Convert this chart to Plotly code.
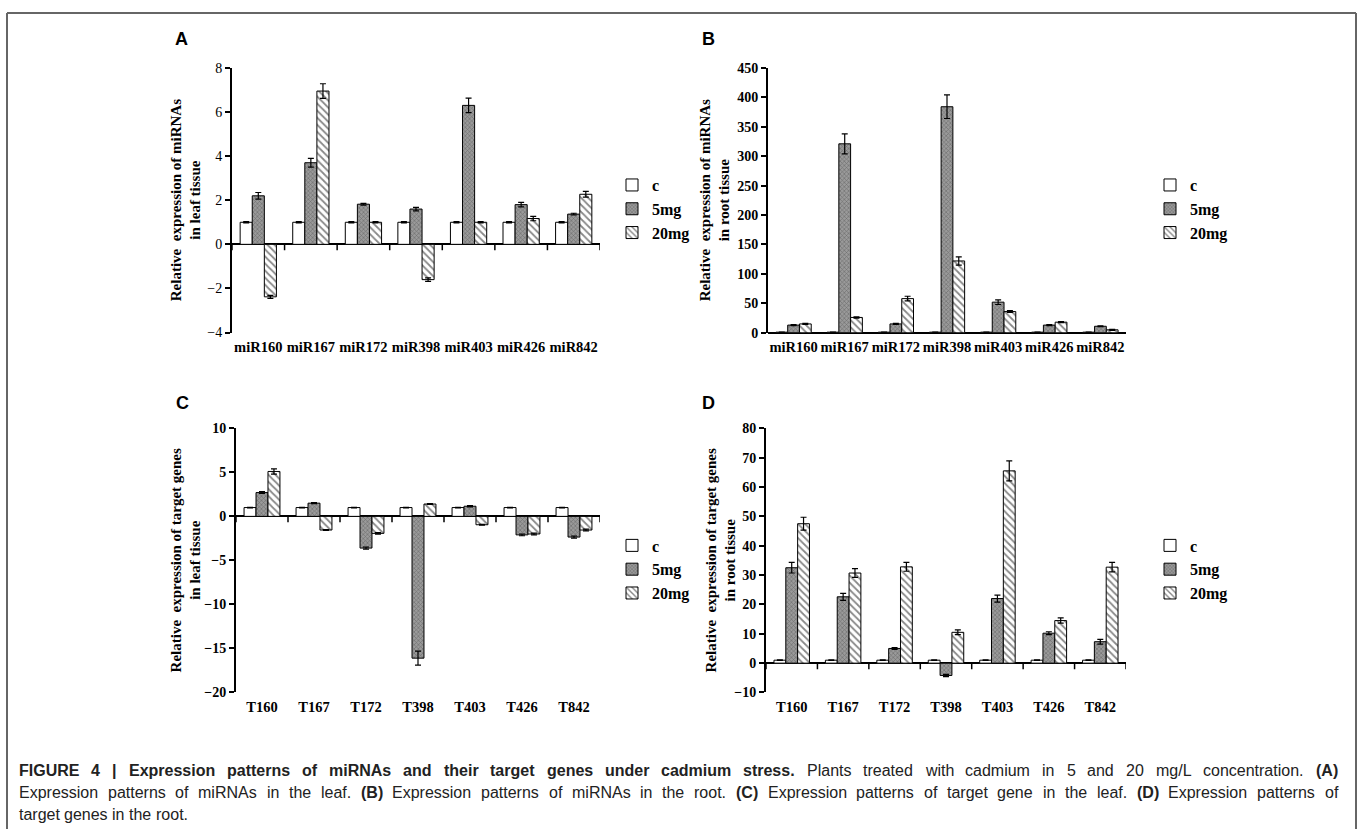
import plotly.graph_objects as go

W, H = 1362, 837

# ---------------- data ----------------
mirna_cats = ["miR160", "miR167", "miR172", "miR398", "miR403", "miR426", "miR842"]
target_cats = ["T160", "T167", "T172", "T398", "T403", "T426", "T842"]
series_names = ["c", "5mg", "20mg"]

# (A) miRNAs in leaf
leaf_mirna_c = [1, 1, 1, 1, 1, 1, 1]
leaf_mirna_c_err = [0.03, 0.03, 0.03, 0.03, 0.03, 0.03, 0.03]
leaf_mirna_5mg = [2.2, 3.7, 1.82, 1.6, 6.3, 1.8, 1.37]
leaf_mirna_5mg_err = [0.15, 0.2, 0.04, 0.08, 0.33, 0.1, 0.04]
leaf_mirna_20mg = [-2.38, 6.95, 1.0, -1.6, 1.0, 1.17, 2.27]
leaf_mirna_20mg_err = [0.07, 0.33, 0.03, 0.08, 0.03, 0.1, 0.13]

# (B) miRNAs in root
root_mirna_c = [1, 1, 1, 1, 1, 1, 1]
root_mirna_c_err = [0.2, 0.2, 0.2, 0.2, 0.2, 0.2, 0.2]
root_mirna_5mg = [13, 321, 15, 384, 52, 13, 11]
root_mirna_5mg_err = [1, 17, 1, 20, 4, 1, 0.8]
root_mirna_20mg = [15, 26, 58, 122, 36, 18, 5]
root_mirna_20mg_err = [1, 1, 4, 7, 1.5, 1, 0.8]

# (C) target genes in leaf
leaf_target_c = [1, 1, 1, 1, 1, 1, 1]
leaf_target_c_err = [0.03, 0.03, 0.03, 0.03, 0.03, 0.03, 0.03]
leaf_target_5mg = [2.7, 1.5, -3.6, -16.1, 1.15, -2.1, -2.35]
leaf_target_5mg_err = [0.1, 0.05, 0.12, 0.8, 0.08, 0.1, 0.12]
leaf_target_20mg = [5.1, -1.55, -1.93, 1.4, -0.95, -2.0, -1.55]
leaf_target_20mg_err = [0.3, 0.05, 0.08, 0.05, 0.05, 0.1, 0.1]

# (D) target genes in root
root_target_c = [1, 1, 1, 1, 1, 1, 1]
root_target_c_err = [0.1, 0.1, 0.1, 0.1, 0.1, 0.1, 0.1]
root_target_5mg = [32.5, 22.6, 5.0, -4.2, 22.0, 10.2, 7.3]
root_target_5mg_err = [1.8, 1.2, 0.3, 0.4, 1.2, 0.5, 0.8]
root_target_20mg = [47.5, 30.7, 32.8, 10.5, 65.5, 14.5, 32.7]
root_target_20mg_err = [2.2, 1.5, 1.5, 0.8, 3.4, 0.9, 1.6]

panel_letters = ["A", "B", "C", "D"]
y_titles = [
    "Relative  expression of miRNAs<br>in leaf tissue",
    "Relative  expression of miRNAs<br>in root tissue",
    "Relative  expression of target genes<br>in leaf tissue",
    "Relative  expression of target genes<br>in root tissue",
]
y_ranges = [(-4, 8, 2), (0, 450, 50), (-20, 10, 5), (-10, 80, 10)]

# caption: list of (text, bold) runs per line
caption_lines = [
    [("FIGURE 4 | Expression patterns of miRNAs and their target genes under cadmium stress.", True),
     ("Plants treated with cadmium in 5 and 20 mg/L concentration.", False),
     ("(A)", True)],
    [("Expression patterns of miRNAs in the leaf.", False), ("(B)", True),
     ("Expression patterns of miRNAs in the root.", False), ("(C)", True),
     ("Expression patterns of target gene in the leaf.", False), ("(D)", True),
     ("Expression patterns of", False)],
    [("target genes in the root.", False)],
]

panels = [
    (mirna_cats, [(leaf_mirna_c, leaf_mirna_c_err), (leaf_mirna_5mg, leaf_mirna_5mg_err), (leaf_mirna_20mg, leaf_mirna_20mg_err)]),
    (mirna_cats, [(root_mirna_c, root_mirna_c_err), (root_mirna_5mg, root_mirna_5mg_err), (root_mirna_20mg, root_mirna_20mg_err)]),
    (target_cats, [(leaf_target_c, leaf_target_c_err), (leaf_target_5mg, leaf_target_5mg_err), (leaf_target_20mg, leaf_target_20mg_err)]),
    (target_cats, [(root_target_c, root_target_c_err), (root_target_5mg, root_target_5mg_err), (root_target_20mg, root_target_20mg_err)]),
]

# ---------------- layout geometry (pixels) ----------------
plot_boxes = [  # x0, x1, ytop, ybottom
    (232, 600, 62, 331.5),
    (768, 1126, 62, 331.7),
    (236, 600, 429, 698),
    (766, 1126, 429, 698),
]
title_x = [186, 715, 186, 721]
letter_pos = [(181, 33), (708, 33), (182, 403), (708, 403)]
legend_pos = [(612, 164), (1150, 164), (612, 531), (1150, 531)]

SERIF = "Liberation Serif"
SANS = "Liberation Sans"

def xd(a, b):
    return [a / W, b / W]

def yd(top, bottom):
    return [1 - bottom / H, 1 - top / H]

# Helvetica / Arial (Liberation Sans) advance widths, 1/1000 em
_reg = dict(zip("ABCDEFGHIJKLMNOPQRSTUVWXYZ",
                [667, 667, 722, 722, 667, 611, 778, 722, 278, 500, 667, 556, 833, 722, 778, 667, 778, 722, 667, 611, 722, 667, 944, 667, 667, 611]))
_reg.update(zip("abcdefghijklmnopqrstuvwxyz",
                [556, 556, 500, 556, 556, 278, 556, 556, 222, 222, 500, 222, 833, 556, 556, 556, 556, 333, 500, 278, 556, 500, 722, 500, 500, 500]))
_reg.update({" ": 278, "(": 333, ")": 333, ".": 278, "/": 278, "|": 260, ",": 278})
_reg.update({d: 556 for d in "0123456789"})
_bold = dict(zip("ABCDEFGHIJKLMNOPQRSTUVWXYZ",
                 [722, 722, 722, 722, 667, 611, 778, 722, 278, 556, 722, 611, 833, 722, 778, 667, 778, 722, 667, 611, 722, 667, 944, 667, 667, 611]))
_bold.update(zip("abcdefghijklmnopqrstuvwxyz",
                 [556, 611, 556, 611, 556, 333, 611, 611, 278, 278, 556, 278, 889, 611, 611, 611, 611, 389, 556, 333, 611, 556, 778, 556, 556, 500]))
_bold.update({" ": 278, "(": 333, ")": 333, ".": 278, "/": 278, "|": 280, ",": 278})
_bold.update({d: 556 for d in "0123456789"})

def text_w(s, bold, size):
    t = _bold if bold else _reg
    return sum(t.get(ch, 556) for ch in s) * size / 1000.0

patterns = [
    dict(shape=""),
    dict(shape="x", fgcolor="#3a3a3a", bgcolor="#9a9a9a", size=3, solidity=0.35),
    dict(shape="\\", fgcolor="#111111", bgcolor="white", size=5, solidity=0.35),
]
fills = ["white", "#8c8c8c", "white"]

fig = go.Figure()
layout_axes = {}
shapes = []
annotations = []
legend_names = ["legend", "legend2", "legend3", "legend4"]

for i, (cats, series) in enumerate(panels):
    n = i + 1
    xa = "x" if n == 1 else f"x{n}"
    ya = "y" if n == 1 else f"y{n}"
    for s, (vals, errs) in enumerate(series):
        fig.add_trace(go.Bar(
            x=cats, y=vals, name=series_names[s],
            xaxis=xa, yaxis=ya, legend=legend_names[i],
            marker=dict(color=fills[s], line=dict(color="black", width=1), pattern=patterns[s]),
            error_y=dict(type="data", array=errs, visible=True, color="black", thickness=1.2, width=3),
        ))
    x0, x1, yt, yb = plot_boxes[i]
    lo, hi, step = y_ranges[i]
    ticks = list(range(lo, hi + 1, step))
    layout_axes["xaxis" if n == 1 else f"xaxis{n}"] = dict(
        domain=xd(x0, x1), anchor=ya, type="category", range=[-0.5, len(cats) - 0.5],
        showline=False, ticks="", showgrid=False, zeroline=False, tickangle=0,
        tickfont=dict(family=SERIF, size=14.5, color="black", weight="bold"),
        ticklabelstandoff=4,
    )
    layout_axes["yaxis" if n == 1 else f"yaxis{n}"] = dict(
        domain=yd(yt, yb), anchor=xa, range=[lo, hi], tickmode="array", tickvals=ticks,
        showline=True, linecolor="black", linewidth=2, ticks="outside", ticklen=5,
        tickwidth=1.5, tickcolor="black", showgrid=False,
        zeroline=True, zerolinecolor="black", zerolinewidth=2,
        tickfont=dict(family=SERIF, size=14, color="black", weight=("normal" if n == 1 else "bold")),
    )
    # category boundary tick marks under the zero line
    for k in range(len(cats) + 1):
        shapes.append(dict(type="line", xref=xa, yref=ya, x0=k - 0.5, x1=k - 0.5,
                           ysizemode="pixel", yanchor=0, y0=0, y1=-6,
                           line=dict(color="black", width=1.5)))
    annotations.append(dict(text=f"<b>{y_titles[i]}</b>", textangle=-90, xref="paper", yref="paper",
                            x=title_x[i] / W, y=1 - ((yt + yb) / 2) / H, xanchor="center", yanchor="middle",
                            showarrow=False, font=dict(family=SERIF, size=15, color="black")))
    lx, ly = letter_pos[i]
    annotations.append(dict(text=f"<b>{panel_letters[i]}</b>", xref="paper", yref="paper",
                            x=lx / W, y=1 - ly / H, xanchor="center", yanchor="middle",
                            showarrow=False, font=dict(family=SANS, size=18, color="black")))
    gx, gy = legend_pos[i]
    layout_axes[legend_names[i]] = dict(
        x=gx / W, y=1 - gy / H, xanchor="left", yanchor="top",
        font=dict(family=SERIF, size=16, color="black", weight="bold"),
        bgcolor="rgba(0,0,0,0)", borderwidth=0, itemwidth=30, tracegroupgap=0,
    )

# caption, justified between left and right text edges (last line ragged)
CAP_SIZE = 16
cap_left, cap_right = 17, 1336
cap_y = [777, 800, 822]
for li, runs in enumerate(caption_lines):
    words = []
    for txt, b in runs:
        for w in txt.split(" "):
            words.append((w, b))
    widths = [text_w(w, b, CAP_SIZE) for w, b in words]
    space = text_w(" ", False, CAP_SIZE)
    gaps = len(words) - 1
    if li < len(caption_lines) - 1 and gaps > 0:
        gap_w = max(space, (cap_right - cap_left - sum(widths)) / gaps)
    else:
        gap_w = space
    xpos = cap_left
    for (w, b), ww in zip(words, widths):
        annotations.append(dict(text=(f"<b>{w}</b>" if b else w), xref="paper", yref="paper",
                                x=xpos / W, y=1 - cap_y[li] / H, xanchor="left", yanchor="middle",
                                showarrow=False,
                                font=dict(family=SANS, size=CAP_SIZE, color="#222222")))
        xpos += ww + gap_w

# frame
frame_col = "#666666"
shapes += [
    dict(type="line", xref="paper", yref="paper", x0=7 / W, x1=7 / W, y0=0, y1=1 - 6 / H, line=dict(color=frame_col, width=2)),
    dict(type="line", xref="paper", yref="paper", x0=7 / W, x1=1356 / W, y0=1 - 6 / H, y1=1 - 6 / H, line=dict(color=frame_col, width=2)),
    dict(type="line", xref="paper", yref="paper", x0=1356 / W, x1=1356 / W, y0=0, y1=1 - 6 / H, line=dict(color=frame_col, width=2)),
]

fig.update_layout(
    width=W, height=H, margin=dict(l=0, r=0, t=0, b=0),
    paper_bgcolor="white", plot_bgcolor="white",
    barmode="group", bargap=0.31, bargroupgap=0,
    showlegend=True, shapes=shapes, annotations=annotations,
    **layout_axes,
)

fig.write_html("out.html", config={"displayModeBar": False},
               post_script="document.documentElement.style.margin='0px';document.body.style.margin='0px';document.body.style.padding='0px';")
